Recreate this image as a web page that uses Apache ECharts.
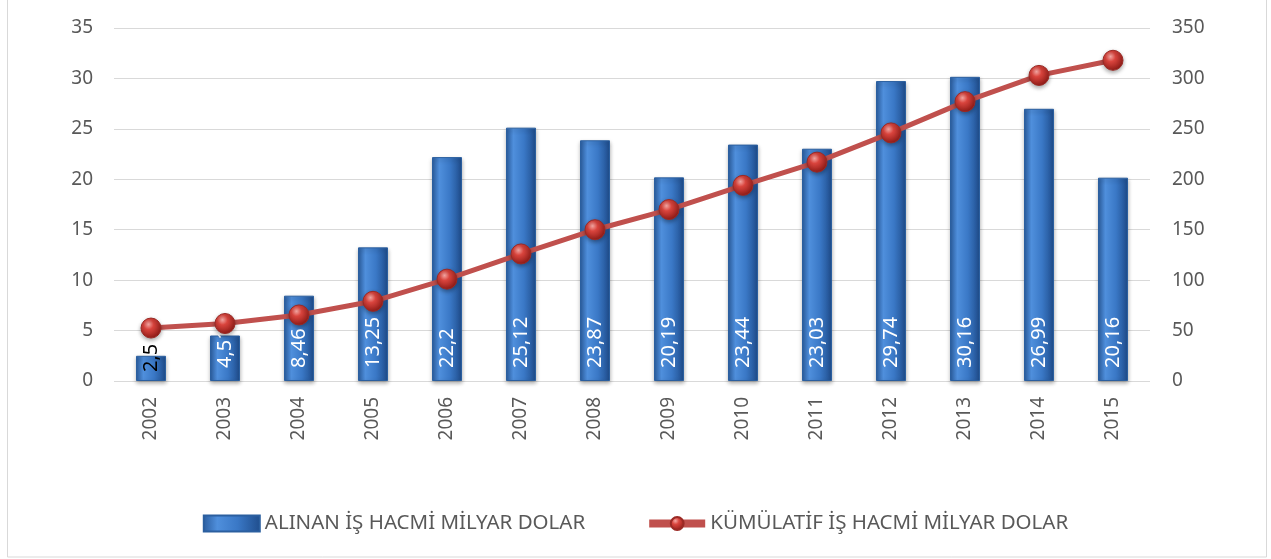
<!DOCTYPE html>
<html><head><meta charset="utf-8">
<script src="https://cdn.jsdelivr.net/npm/echarts@6/dist/echarts.min.js"></script>
<style>html,body{margin:0;padding:0;background:#fff}#c{width:1271px;height:559px}</style>
</head><body><div id="c"></div>
<script>
const years = ['2002','2003','2004','2005','2006','2007','2008','2009','2010','2011','2012','2013','2014','2015'];
const volume = [2.5,4.51,8.46,13.25,22.2,25.12,23.87,20.19,23.44,23.03,29.74,30.16,26.99,20.16];
const volumeLabels = ['2,5','4,51','8,46','13,25','22,2','25,12','23,87','20,19','23,44','23,03','29,74','30,16','26,99','20,16'];
const cumulative = [52.5,57,65.5,79,101,126,150,170,194,217,246,277,303,318];
const leftTicks = [0,35,5];
const rightTicks = [0,350,50];
const seriesNames = ['ALINAN İŞ HACMİ MİLYAR DOLAR','KÜMÜLATİF İŞ HACMİ MİLYAR DOLAR'];

const FONT = 'Noto Sans';
const chart = echarts.init(document.getElementById('c'), null, {renderer:'canvas'});
const barColor = new echarts.graphic.LinearGradient(0,0,1,0,[
  {offset:0,color:'#2a5c9e'},{offset:0.25,color:'#4f8fdc'},{offset:0.6,color:'#3a78c6'},{offset:1,color:'#1f4d8c'}]);
const ballColor = new echarts.graphic.RadialGradient(0.38,0.32,0.7,[
  {offset:0,color:'#f4a7a3'},{offset:0.35,color:'#d9443d'},{offset:1,color:'#8e1a16'}]);
chart.setOption({
  animation:false,
  textStyle:{fontFamily:FONT},
  graphic:[{type:'rect',shape:{x:7.5,y:-2,width:1259,height:559},style:{fill:'none',stroke:'#d9d9d9',lineWidth:1}}],
  grid:{left:114,right:121,top:28,bottom:178,containLabel:false},
  legend:{bottom:20,left:'center',itemGap:60,itemWidth:56,itemHeight:16,
    textStyle:{fontFamily:FONT,fontSize:20.5,color:'#595959'},
    data:[{name:seriesNames[0],icon:'rect'},{name:seriesNames[1],lineStyle:{width:8}}]},
  xAxis:{type:'category',data:years,
    axisLine:{show:false},axisTick:{show:false},
    axisLabel:{rotate:90,fontSize:19,color:'#595959',fontFamily:FONT,margin:16}},
  yAxis:[
    {type:'value',min:leftTicks[0],max:leftTicks[1],interval:leftTicks[2],
     axisLine:{show:false},axisTick:{show:false},
     axisLabel:{fontSize:19,color:'#595959',fontFamily:FONT,margin:21},
     splitLine:{lineStyle:{color:'#d9d9d9',width:1}}},
    {type:'value',min:rightTicks[0],max:rightTicks[1],interval:rightTicks[2],
     axisLine:{show:false},axisTick:{show:false},
     axisLabel:{fontSize:19,color:'#595959',fontFamily:FONT,margin:22},
     splitLine:{show:false}}
  ],
  series:[
    {name:seriesNames[0],type:'bar',yAxisIndex:0,barWidth:30,
     itemStyle:{color:barColor,borderColor:'#2b5f9f',borderWidth:1,shadowColor:'rgba(0,0,0,0.3)',shadowBlur:4,shadowOffsetY:2},
     label:{show:true,position:'insideBottom',rotate:90,align:'left',verticalAlign:'middle',distance:13,
       fontSize:20,color:'#ffffff',fontFamily:FONT,
       formatter:p=>volumeLabels[p.dataIndex]},
     data:volume.map((v,i)=> i===0 ? {value:v,label:{color:'#000000',distance:9}} : v)},
    {name:seriesNames[1],type:'line',yAxisIndex:1,
     symbol:'circle',symbolSize:20,
     lineStyle:{color:'#c0504d',width:5},
     itemStyle:{color:ballColor,borderColor:'#9b2a25',borderWidth:1,shadowColor:'rgba(0,0,0,0.35)',shadowBlur:4,shadowOffsetY:2},
     data:cumulative}
  ]
});
</script></body></html>
